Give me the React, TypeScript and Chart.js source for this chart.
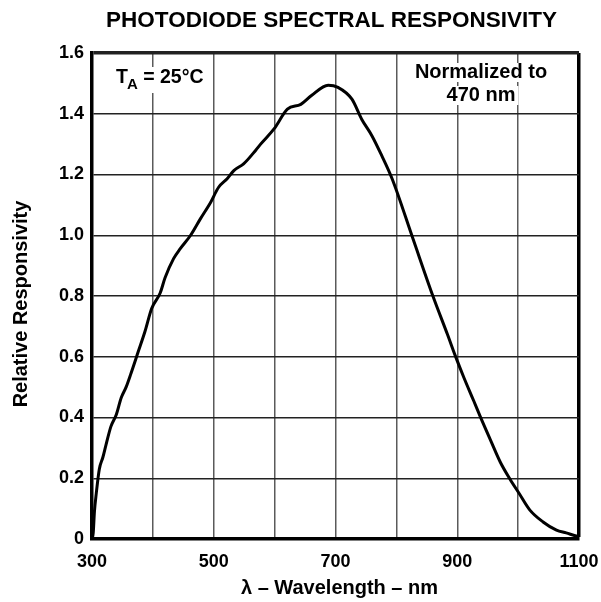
import React, { useEffect, useRef } from "react";
import { Chart, registerables } from "chart.js";

Chart.register(...registerables);

const wavelengths = [300, 302, 304, 307, 312, 318, 323, 331, 340, 348, 356, 364, 376, 387, 398, 412, 420, 434, 445, 462, 478, 495, 508, 522, 533, 549, 569, 577, 599, 621, 643, 660, 688, 704, 727, 743, 760, 776, 793, 827, 860, 884, 897, 911, 927, 938, 955, 971, 987, 1002, 1019, 1041, 1063, 1079, 1097, 1100];
const responsivity = [0, 0.02, 0.09, 0.15, 0.23, 0.27, 0.31, 0.37, 0.41, 0.465, 0.5, 0.545, 0.617, 0.683, 0.759, 0.81, 0.86, 0.923, 0.956, 1.0, 1.054, 1.109, 1.158, 1.186, 1.213, 1.235, 1.28, 1.3, 1.35, 1.415, 1.431, 1.459, 1.494, 1.487, 1.448, 1.382, 1.327, 1.262, 1.186, 0.99, 0.8, 0.673, 0.602, 0.531, 0.455, 0.402, 0.324, 0.252, 0.196, 0.149, 0.096, 0.056, 0.029, 0.02, 0.009, 0.008];
const xLabeledTicks = [300, 500, 700, 900, 1100];

const chartTitle = "PHOTODIODE SPECTRAL RESPONSIVITY";
const yTitle = "Relative Responsivity";
const xTitle = "λ – Wavelength – nm";
const noteTemp = ["T", "A", " = 25°C"];
const noteNorm = ["Normalized to", "470 nm"];

const FONT = "'Liberation Sans', Arial, sans-serif";

const textPlugin = {
  id: "textPlugin",
  beforeDraw(chart: any) {
    const ctx = chart.ctx;
    ctx.save();
    ctx.fillStyle = "#fff";
    ctx.fillRect(0, 0, chart.width, chart.height);
    ctx.restore();
  },
  afterDatasetsDraw(chart: any) {
    const ctx = chart.ctx;
    const area = chart.chartArea;
    ctx.save();
    ctx.fillStyle = "#000";
    // title
    ctx.font = `bold 22.5px ${FONT}`;
    ctx.textAlign = "center";
    ctx.textBaseline = "middle";
    ctx.fillText(chartTitle, (area.left + area.right) / 2 - 4, 21);

    // axis titles
    ctx.font = `bold 20px ${FONT}`;
    ctx.fillText(xTitle, (area.left + area.right) / 2 + 4, 588);
    ctx.save();
    ctx.translate(21, (area.top + area.bottom) / 2 + 8);
    ctx.rotate(-Math.PI / 2);
    ctx.fillText(yTitle, 0, 0);
    ctx.restore();

    // T_A = 25°C
    const f1 = `bold 19.5px ${FONT}`;
    const fs = `bold 15px ${FONT}`;
    ctx.textAlign = "left";
    ctx.textBaseline = "alphabetic";
    const x0 = 116;
    const base = 83;
    ctx.font = f1;
    const wT = ctx.measureText(noteTemp[0]).width;
    ctx.font = fs;
    const wA = ctx.measureText(noteTemp[1]).width;
    ctx.font = f1;
    const wR = ctx.measureText(noteTemp[2]).width;
    ctx.fillStyle = "#fff";
    ctx.fillRect(x0 - 3, base - 16, wT + wA + wR + 6, 26);
    ctx.fillStyle = "#000";
    ctx.font = f1;
    ctx.fillText(noteTemp[0], x0, base);
    ctx.font = fs;
    ctx.fillText(noteTemp[1], x0 + wT - 1, base + 6);
    ctx.font = f1;
    ctx.fillText(noteTemp[2], x0 + wT + wA - 1, base);

    // Normalized to 470 nm
    const cx = 481;
    ctx.textAlign = "center";
    ctx.font = `bold 20px ${FONT}`;
    const bases = [78, 101];
    noteNorm.forEach((t, i) => {
      const w = ctx.measureText(t).width;
      ctx.fillStyle = "#fff";
      ctx.fillRect(cx - w / 2 - 3, bases[i] - 15, w + 6, 19);
      ctx.fillStyle = "#000";
      ctx.fillText(t, cx, bases[i]);
    });
    ctx.restore();
  },
};

export default function App() {
  const ref = useRef<HTMLCanvasElement | null>(null);
  useEffect(() => {
    if (!ref.current) return;
    const chart = new Chart(ref.current, {
      type: "line",
      data: {
        datasets: [
          {
            data: wavelengths.map((w, i) => ({ x: w, y: responsivity[i] })),
            borderColor: "#000",
            borderWidth: 3,
            pointRadius: 0,
            cubicInterpolationMode: "monotone",
            fill: false,
          },
        ],
      },
      options: {
        responsive: false,
        animation: false,
        layout: { padding: { left: 0, top: 53, right: 22, bottom: 0 } },
        plugins: {
          legend: { display: false },
          tooltip: { enabled: false },
          title: { display: false },
        },
        scales: {
          x: {
            type: "linear",
            min: 300,
            max: 1100,
            afterFit: (s: any) => {
              s.height = 63;
              s.paddingLeft = 0;
              s.paddingRight = 0;
            },
            ticks: {
              stepSize: 100,
              autoSkip: false,
              maxRotation: 0,
              padding: 12,
              color: "#000",
              font: { family: FONT, size: 18, weight: "bold" },
              callback: (v: any) => (xLabeledTicks.includes(Number(v)) ? String(v) : ""),
            },
            grid: {
              drawTicks: false,
              color: (c: any) => (c.tick && c.tick.value === 1100 ? "#000" : "#5a5a5a"),
              lineWidth: (c: any) => (c.tick && c.tick.value === 1100 ? 3.5 : 1.5),
            },
            border: { display: true, color: "#000", width: 3.5 },
          },
          y: {
            min: 0,
            max: 1.6,
            afterFit: (s: any) => {
              s.width = 92;
              s.paddingTop = 0;
              s.paddingBottom = 0;
            },
            ticks: {
              stepSize: 0.2,
              padding: 8,
              color: "#000",
              font: { family: FONT, size: 18, weight: "bold" },
              callback: (v: any) => (Math.abs(Number(v)) < 1e-9 ? "0" : Number(v).toFixed(1)),
            },
            grid: {
              drawTicks: false,
              color: "#222",
              lineWidth: (c: any) => (c.tick && Math.abs(c.tick.value - 1.6) < 1e-6 ? 3.5 : 1.5),
            },
            border: { display: true, color: "#000", width: 3.5 },
          },
        },
      },
      plugins: [textPlugin],
    } as any);
    return () => chart.destroy();
  }, []);
  return (
    <div style={{ position: "fixed", left: 0, top: 0, width: 601, height: 602 }}>
      <canvas ref={ref} width={601} height={602} />
    </div>
  );
}
